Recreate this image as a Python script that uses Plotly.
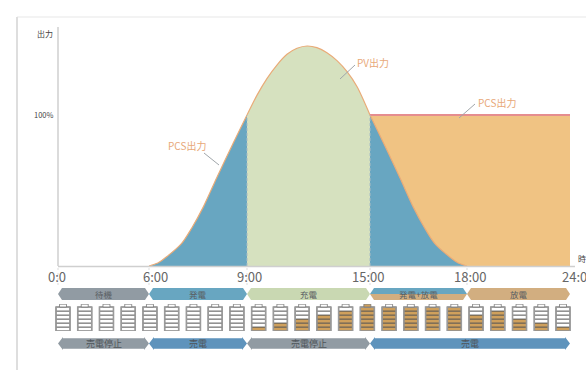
import numpy as np
import plotly.graph_objects as go

W, H = 586, 370

# Unevenly spaced time axis: clock hour -> horizontal position
HOUR_KNOTS = [0, 6, 9, 15, 18, 24]
POS_KNOTS = [58, 149, 247, 370, 467, 570]
TICK_LABELS = ["0:0", "6:00", "9:00", "15:00", "18:00", "24:0"]
TICK_LABEL_STARTS = [47, 142, 236, 351, 453, 561]

# PV output (% of PCS rating)
pv_hours_rise = [6, 6.27, 6.54, 7.0, 7.31, 7.66, 8.07, 8.58, 9]
pv_vals_rise = [0, 2, 6.1, 15, 25.2, 39, 58.3, 81.5, 100]
pv_hours_mid = [9, 9.49, 9.98, 10.46, 10.95, 11.44, 11.93, 12.41, 12.9, 13.39, 13.88, 14.37, 15]
pv_vals_mid = [100, 113.2, 124.3, 133.1, 140.2, 144.2, 145.7, 144.6, 141.3, 136, 128.7, 118.7, 100]
pv_hours_fall = [15, 15.42, 15.93, 16.34, 16.69, 17.0, 17.46, 17.73, 18]
pv_vals_fall = [100, 81.5, 58.3, 39, 25.2, 15, 6.1, 2, 0]
pcs_hours = [15, 24]
pcs_vals = [100, 100]

# Operating bands
band1_labels = ["待機", "発電", "充電", "発電+放電", "放電"]
band1_hours = [(0, 6), (6, 9), (9, 15), (15, 18), (18, 24)]
band2_labels = ["売電停止", "売電", "売電停止", "売電"]
band2_hours = [(0, 6), (6, 9), (9, 15), (15, 24)]

# Battery level, rows filled out of 6, one battery per hour
battery_levels = [0, 0, 0, 0, 0, 0, 0, 0, 0, 1, 2, 3, 4, 5, 6, 6, 6, 6, 6, 4, 5, 3, 2, 1]
battery_full_cap = [False] * 14 + [True] + [False] * 9
BATTERY_ROWS = 6

C_BLUE, C_GREEN, C_ORANGE = "#68a6c1", "#d6e1bf", "#f0c383"
C_LINE, C_RED = "#e9ab78", "#e58d8f"
C_GREY_BAND, C_BLUE_BAND, C_GREEN_BAND, C_TAN_BAND, C_BLUE2_BAND = "#919ba3", "#68a6c1", "#c9d8b2", "#d2ae80", "#5e93bc"
C_BATT = "#cfa05c"
FONT = "Noto Sans CJK JP"


def pos(h):
    return np.interp(h, HOUR_KNOTS, POS_KNOTS)


def dom(top, bottom):
    return [1 - bottom / H, 1 - top / H]


fig = go.Figure()


def area(hours, vals, fill, line=None, lw=0):
    fig.add_trace(go.Scatter(
        x=pos(hours), y=vals, mode="lines", fill="tozeroy", fillcolor=fill,
        line=dict(color=line or fill, width=lw, shape="spline", smoothing=0.8),
        hoverinfo="skip", showlegend=False))


# Main chart
area(pcs_hours, pcs_vals, C_ORANGE)
area(pv_hours_rise, pv_vals_rise, C_BLUE, C_LINE, 1.2)
area(pv_hours_mid, pv_vals_mid, C_GREEN, C_LINE, 1.2)
area(pv_hours_fall, pv_vals_fall, C_BLUE, C_LINE, 1.2)
fig.add_trace(go.Scatter(x=pos(pcs_hours), y=pcs_vals, mode="lines",
                         line=dict(color=C_RED, width=1.8), hoverinfo="skip", showlegend=False))
for h in (9, 15):
    fig.add_shape(type="line", x0=pos(h), x1=pos(h), y0=0, y1=100, xref="x", yref="y",
                  line=dict(color="#a9bcc4", width=1, dash="3px,2px"))

# Leader lines
leaders = [((204, 153), (219, 165)), ((355, 65), (340, 79)), ((475, 104), (459, 118))]
shapes_px = []
for (a, b) in leaders:
    shapes_px.append(dict(type="line", xref="paper", yref="paper", x0=a[0] / W, x1=b[0] / W,
                          y0=1 - a[1] / H, y1=1 - b[1] / H, line=dict(color="#a0a6aa", width=1)))


def label(x, y, text, size, color, xanchor="center"):
    fig.add_annotation(x=x / W, y=1 - y / H, xref="paper", yref="paper", text=text, showarrow=False,
                       xanchor=xanchor, yanchor="middle",
                       font=dict(family=FONT, size=size, color=color), borderpad=0)


label(187, 145, "PCS出力", 10, "#e8a878")
label(373, 62, "PV出力", 10, "#e8a878")
label(497, 102, "PCS出力", 10, "#e8a878")
label(54, 34, "出力", 8, "#444", "right")
label(54, 115, "100%", 7.5, "#444", "right")
label(577, 258, "時", 8, "#444", "left")

# Tick labels
for start, text in zip(TICK_LABEL_STARTS, TICK_LABELS):
    label(start, 276, text, 13, "#666", "left")
for h in HOUR_KNOTS[:-1]:
    fig.add_shape(type="line", xref="x", yref="paper", x0=pos(h), x1=pos(h),
                  y0=1 - 268 / H, y1=1 - 288 / H, line=dict(color="#dddddd", width=1, dash="2px,3px"))

# Bands (axis y2 runs top to bottom)
ROW1 = (288, 300)
ROW2 = (337, 350)


def band(x0, x1, row, color, tip=4):
    t, b = row
    m = (t + b) / 2
    fig.add_trace(go.Scatter(
        x=[x0, x0 + tip, x1 - tip, x1, x1 - tip, x0 + tip, x0],
        y=[m, t, t, m, b, b, m], yaxis="y2", mode="lines", fill="toself", fillcolor=color,
        line=dict(width=0, color=color), hoverinfo="skip", showlegend=False))


def arrow_band(x0, x1, row, color, tip=5, inset=1.2):
    t, b = row
    m = (t + b) / 2
    xs = [x0, x0 + tip, x0 + tip, x1 - tip, x1 - tip, x1, x1 - tip, x1 - tip, x0 + tip, x0 + tip, x0]
    ys = [m, t, t + inset, t + inset, t, m, b, b - inset, b - inset, b, m]
    fig.add_trace(go.Scatter(x=xs, y=ys, yaxis="y2", mode="lines", fill="toself", fillcolor=color,
                             line=dict(width=0, color=color), hoverinfo="skip", showlegend=False))


row1_colors = [C_GREY_BAND, C_BLUE_BAND, C_GREEN_BAND, None, C_TAN_BAND]
for (h0, h1), text, c in zip(band1_hours, band1_labels, row1_colors):
    x0, x1 = pos(h0), pos(h1)
    if c is None:
        t, b = ROW1
        m = (t + b) / 2
        tip = 4
        fig.add_trace(go.Scatter(x=[x0, x0 + tip, x1 - tip, x1, x0], y=[m, t, t, m, m], yaxis="y2", mode="lines",
                                 fill="toself", fillcolor=C_BLUE_BAND, line=dict(width=0, color=C_BLUE_BAND),
                                 hoverinfo="skip", showlegend=False))
        fig.add_trace(go.Scatter(x=[x0, x1, x1 - tip, x0 + tip, x0], y=[m, m, b, b, m], yaxis="y2", mode="lines",
                                 fill="toself", fillcolor=C_TAN_BAND, line=dict(width=0, color=C_TAN_BAND),
                                 hoverinfo="skip", showlegend=False))
    else:
        band(x0, x1, ROW1, c)
    label((x0 + x1) / 2, sum(ROW1) / 2, text, 8.5, "#5a5f63")

row2_colors = [C_GREY_BAND, C_BLUE2_BAND, C_GREY_BAND, C_BLUE2_BAND]
for (h0, h1), text, c in zip(band2_hours, band2_labels, row2_colors):
    x0, x1 = pos(h0), pos(h1)
    arrow_band(x0, x1, ROW2, c)
    label((x0 + x1) / 2, sum(ROW2) / 2, text, 9, "#4f555a")

# Batteries: stacked cells
FIRST_BATTERY, LAST_BATTERY = 63, 563
batt_x = np.linspace(FIRST_BATTERY, LAST_BATTERY, len(battery_levels))
for r in range(BATTERY_ROWS):
    colors = [C_BATT if lvl > r else "#ffffff" for lvl in battery_levels]
    fig.add_trace(go.Bar(x=batt_x, y=[1] * len(batt_x), base=[r] * len(batt_x), width=14, yaxis="y3",
                         marker=dict(color=colors, line=dict(color="#555555", width=0.8)),
                         hoverinfo="skip", showlegend=False))
fig.add_trace(go.Bar(x=batt_x, y=[BATTERY_ROWS] * len(batt_x), base=[0] * len(batt_x), width=14, yaxis="y3",
                     marker=dict(color="rgba(0,0,0,0)", line=dict(color="#9a9a9a", width=1.6)),
                     hoverinfo="skip", showlegend=False))
fig.add_trace(go.Bar(x=batt_x, y=[0.7] * len(batt_x), base=[BATTERY_ROWS] * len(batt_x), width=7, yaxis="y3",
                     marker=dict(color=[C_BATT if f else "#ffffff" for f in battery_full_cap],
                                 line=dict(color="#777777", width=0.8)),
                     hoverinfo="skip", showlegend=False))

# Axis lines and card edge
frame = [
    dict(type="line", xref="paper", yref="paper", x0=58 / W, x1=58 / W, y0=1 - 27 / H, y1=1 - 266 / H,
         line=dict(color="#cfcfcf", width=1.5)),
    dict(type="line", xref="paper", yref="paper", x0=58 / W, x1=575 / W, y0=1 - 266.5 / H, y1=1 - 266.5 / H,
         line=dict(color="#cfcfcf", width=1.5)),
    dict(type="line", xref="paper", yref="paper", x0=17 / W, x1=1, y0=1 - 17 / H, y1=1 - 17 / H,
         line=dict(color="#e8e8e8", width=1.2)),
    dict(type="line", xref="paper", yref="paper", x0=17 / W, x1=17 / W, y0=1 - 17 / H, y1=0,
         line=dict(color="#dedede", width=2)),
]
for s in frame + shapes_px:
    fig.add_shape(**s)

fig.update_layout(
    width=W, height=H, margin=dict(l=0, r=0, t=0, b=0),
    plot_bgcolor="white", paper_bgcolor="white", barmode="overlay", showlegend=False,
    xaxis=dict(range=[0, W], domain=[0, 1], visible=False, fixedrange=True),
    yaxis=dict(range=[0, 158.3], domain=dom(27, 266), visible=False, fixedrange=True),
    yaxis2=dict(range=[360, 280], domain=dom(280, 360), visible=False, fixedrange=True, anchor="x"),
    yaxis3=dict(range=[0, BATTERY_ROWS + 0.75], domain=dom(304, 331), visible=False, fixedrange=True, anchor="x"),
)
fig.write_html("out.html", config=dict(displayModeBar=False),
               post_script="document.body.style.margin='0';document.body.style.overflow='hidden';")
